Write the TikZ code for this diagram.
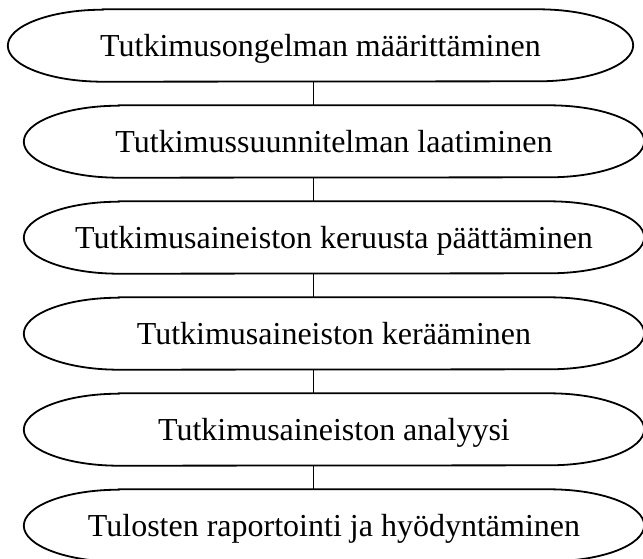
\documentclass[tikz,border=0pt]{standalone}
\usepackage{fontspec}
\setmainfont{Liberation Serif}
\tikzset{
  stage/.style={draw=none, rectangle, inner sep=0pt, minimum height=72pt,
    text height=22.4pt, text depth=0pt,
    font=\fontsize{32}{38}\selectfont},
  outline/.style={draw=black, line width=1.8pt},
  link/.style={draw=black, line width=1.8pt}
}
\newcommand\capsuleshape[1]{%
  \draw[outline] ([xshift=95pt]#1.north west) -- ([xshift=-95pt]#1.north east)
    arc[start angle=90, end angle=-90, x radius=95pt, y radius=36pt]
    -- ([xshift=95pt]#1.south west)
    arc[start angle=270, end angle=90, x radius=95pt, y radius=36pt] -- cycle;}
\begin{document}
\begin{tikzpicture}[x=1pt, y=1pt]
  \fill[white] (0,0) rectangle (643,-558);
  \useasboundingbox (0,0) rectangle (643,-558);
  \node[stage, minimum width=625pt] (n1) at (320.5,-45.5) {Tutkimusongelman määrittäminen};
  \node[stage, minimum width=620pt] (n2) at (334,-141.5) {Tutkimussuunnitelman laatiminen};
  \node[stage, minimum width=620pt] (n3) at (334,-237.5) {Tutkimusaineiston keruusta päättäminen};
  \node[stage, minimum width=620pt] (n4) at (334,-333.5) {Tutkimusaineiston kerääminen};
  \node[stage, minimum width=620pt] (n5) at (334,-429.5) {Tutkimusaineiston analyysi};
  \node[stage, minimum width=620pt] (n6) at (334,-525.5) {Tulosten raportointi ja hyödyntäminen};
  \capsuleshape{n1}
  \capsuleshape{n2}
  \capsuleshape{n3}
  \capsuleshape{n4}
  \capsuleshape{n5}
  \capsuleshape{n6}
  \coordinate (cx) at (313.5,0);
  \draw[link] (n1.south -| cx) -- (n2.north -| cx);
  \draw[link] (n2.south -| cx) -- (n3.north -| cx);
  \draw[link] (n3.south -| cx) -- (n4.north -| cx);
  \draw[link] (n4.south -| cx) -- (n5.north -| cx);
  \draw[link] (n5.south -| cx) -- (n6.north -| cx);
\end{tikzpicture}
\end{document}
